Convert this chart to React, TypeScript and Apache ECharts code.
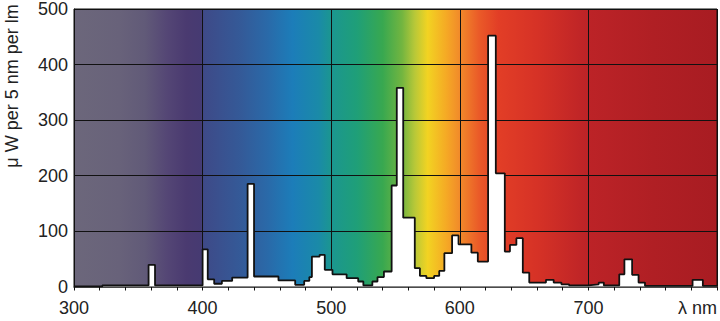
import React, { useEffect, useRef } from "react";
import * as echarts from "echarts";

// Bin edges (nm) of the spectral power steps; one more edge than values
const binEdges = [
  300, 322, 358, 363, 400, 404, 409, 415, 423, 435, 440, 459, 472, 479, 483, 485, 491, 495,
  501, 512, 521, 525, 532, 536, 541, 547, 551, 556, 565, 569, 574, 580, 584, 588, 594, 599,
  609, 614, 622, 628, 635, 639, 644, 649, 654, 667, 673, 679, 685, 700, 704, 708, 712, 724,
  728, 734, 739, 744, 781, 789, 800,
];
// Relative spectral power (µW per 5 nm per lm) for each bin
const power = [
  0, 2, 39, 2, 67, 13, 5, 10, 16, 185, 18, 11, 3, 10, 17, 54, 57, 30,
  22, 15, 9, 2, 9, 17, 27, 182, 358, 124, 33, 19, 15, 19, 28, 60, 92, 76,
  61, 45, 452, 204, 63, 75, 87, 25, 7, 12, 7, 4, 2, 3, 4, 7, 2, 22,
  49, 21, 7, 1, 12, 1,
];
const xMin = 300;
const xMax = 800;
const yMax = 500;
const yAxisTitle = "μ W per 5 nm per lm";
const xAxisTitle = "λ nm";

const FONT = "'Liberation Sans', Arial, sans-serif";

export default function App() {
  const ref = useRef<HTMLDivElement>(null);
  useEffect(() => {
    if (!ref.current) return;
    const chart = echarts.init(ref.current, null, { renderer: "svg" });
    const data: number[][] = power.map((v, i) => [binEdges[i], v]);
    data.push([binEdges[binEdges.length - 1], power[power.length - 1]]);

    const spectrum = new echarts.graphic.LinearGradient(0, 0, 1, 0, [
      { offset: 0.0, color: "#6c677b" },
      { offset: 0.07, color: "#68627a" },
      { offset: 0.11, color: "#615a78" },
      { offset: 0.145, color: "#544675" },
      { offset: 0.175, color: "#4a3a70" },
      { offset: 0.197, color: "#463a72" },
      { offset: 0.202, color: "#3e4a88" },
      { offset: 0.26, color: "#345a98" },
      { offset: 0.3, color: "#2a69a8" },
      { offset: 0.34, color: "#1c7db9" },
      { offset: 0.38, color: "#1a8aa8" },
      { offset: 0.4, color: "#1b9690" },
      { offset: 0.44, color: "#1f9f78" },
      { offset: 0.48, color: "#38a850" },
      { offset: 0.51, color: "#72b540" },
      { offset: 0.53, color: "#b8c838" },
      { offset: 0.55, color: "#f2d322" },
      { offset: 0.58, color: "#f5a825" },
      { offset: 0.6, color: "#f18a2a" },
      { offset: 0.63, color: "#ea5a28" },
      { offset: 0.66, color: "#e23e26" },
      { offset: 0.72, color: "#d63226" },
      { offset: 0.8, color: "#bc2327" },
      { offset: 0.9, color: "#b01f24" },
      { offset: 1.0, color: "#a81c22" },
    ]);

    chart.setOption({
      animation: false,
      grid: {
        left: 74,
        top: 7.5,
        width: 643,
        height: 279,
        show: true,
        backgroundColor: spectrum,
        borderColor: "#111",
        borderWidth: 1,
      },
      xAxis: {
        type: "value",
        min: xMin,
        max: xMax,
        interval: 100,
        axisLine: { show: true, onZero: false, lineStyle: { color: "#111", width: 1.5 } },
        axisTick: { show: true, length: 4, lineStyle: { color: "#111", width: 1 } },
        minorTick: { show: true, splitNumber: 5, length: 4, lineStyle: { color: "#111", width: 1 } },
        splitLine: { show: true, lineStyle: { color: "#111", width: 1 } },
        axisLabel: {
          fontSize: 18,
          color: "#222",
          fontFamily: FONT,
          margin: 12,
          formatter: (v: number) => (v === xMax ? "" : String(v)),
        },
      },
      yAxis: {
        type: "value",
        min: 0,
        max: yMax,
        interval: 100,
        axisLine: { show: true, lineStyle: { color: "#111", width: 1 } },
        axisTick: { show: false },
        splitLine: { show: true, lineStyle: { color: "#111", width: 1 } },
        axisLabel: { fontSize: 18, color: "#222", fontFamily: FONT, margin: 6 },
      },
      graphic: [
        {
          type: "text",
          x: 12,
          y: 86,
          rotation: Math.PI / 2,
          style: {
            text: yAxisTitle,
            fontSize: 18,
            fontFamily: FONT,
            fill: "#222",
            textAlign: "center",
            textVerticalAlign: "middle",
          },
        },
        {
          type: "text",
          x: 717,
          y: 308,
          style: {
            text: xAxisTitle,
            fontSize: 18,
            fontFamily: FONT,
            fill: "#222",
            textAlign: "right",
            textVerticalAlign: "middle",
          },
        },
      ],
      series: [
        {
          type: "line",
          step: "end",
          data,
          symbol: "none",
          lineStyle: { color: "#111", width: 1.8 },
          areaStyle: { color: "#ffffff", opacity: 1 },
        },
      ],
    });
    return () => chart.dispose();
  }, []);
  return (
    <div
      ref={ref}
      style={{ position: "absolute", left: 0, top: 0, width: 720, height: 321 }}
    />
  );
}
